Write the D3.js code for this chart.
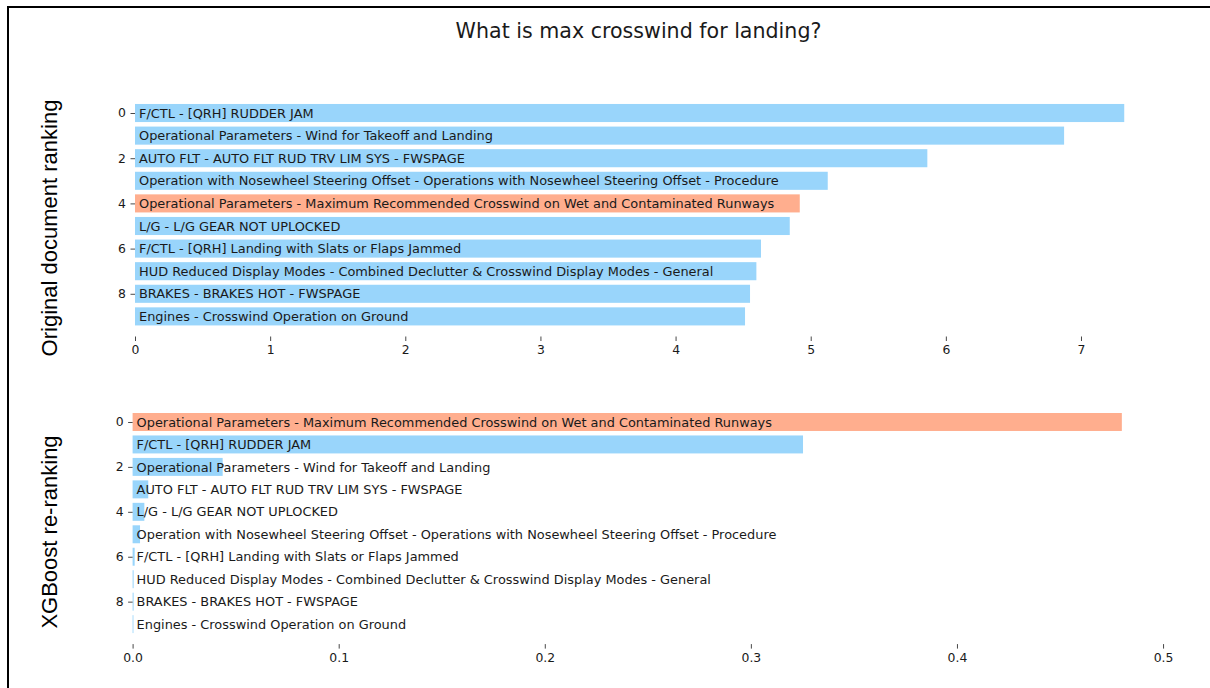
<!DOCTYPE html>
<html>
<head>
<meta charset="utf-8">
<script src="https://cdn.jsdelivr.net/npm/d3@7"></script>
<style>
  html, body { margin: 0; padding: 0; background: #fff; }
  svg { display: block; }
</style>
</head>
<body>
<svg id="chart" width="1210" height="688"></svg>
<script>
// ---- data ----
const chartTitle = "What is max crosswind for landing?";
const highlightLabel = "Operational Parameters - Maximum Recommended Crosswind on Wet and Contaminated Runways";

const originalLabels = [
  "F/CTL - [QRH] RUDDER JAM",
  "Operational Parameters - Wind for Takeoff and Landing",
  "AUTO FLT - AUTO FLT RUD TRV LIM SYS - FWSPAGE",
  "Operation with Nosewheel Steering Offset - Operations with Nosewheel Steering Offset - Procedure",
  "Operational Parameters - Maximum Recommended Crosswind on Wet and Contaminated Runways",
  "L/G - L/G GEAR NOT UPLOCKED",
  "F/CTL - [QRH] Landing with Slats or Flaps Jammed",
  "HUD Reduced Display Modes - Combined Declutter & Crosswind Display Modes - General",
  "BRAKES - BRAKES HOT - FWSPAGE",
  "Engines - Crosswind Operation on Ground"
];
const originalScores = [7.32, 6.875, 5.863, 5.126, 4.919, 4.845, 4.632, 4.598, 4.551, 4.514];
const originalTicks = [0, 1, 2, 3, 4, 5, 6, 7];

const xgbLabels = [
  "Operational Parameters - Maximum Recommended Crosswind on Wet and Contaminated Runways",
  "F/CTL - [QRH] RUDDER JAM",
  "Operational Parameters - Wind for Takeoff and Landing",
  "AUTO FLT - AUTO FLT RUD TRV LIM SYS - FWSPAGE",
  "L/G - L/G GEAR NOT UPLOCKED",
  "Operation with Nosewheel Steering Offset - Operations with Nosewheel Steering Offset - Procedure",
  "F/CTL - [QRH] Landing with Slats or Flaps Jammed",
  "HUD Reduced Display Modes - Combined Declutter & Crosswind Display Modes - General",
  "BRAKES - BRAKES HOT - FWSPAGE",
  "Engines - Crosswind Operation on Ground"
];
const xgbScores = [0.480, 0.3253, 0.0437, 0.0076, 0.0057, 0.0036, 0.0010, 0.0005, 0.0005, 0.0004];
const xgbTicks = [0.0, 0.1, 0.2, 0.3, 0.4, 0.5];

const yTickValues = [0, 2, 4, 6, 8];

// ---- styles ----
const BLUE = "#99d5fb";
const ORANGE = "#ffae8e";
const TEXT = "#1a1a1a";
const FONT = "'DejaVu Sans', sans-serif";
const LABEL_FONT = "'Liberation Sans', Arial, sans-serif";

const svg = d3.select("#chart");

// frame lines (cropped figure border)
svg.append("line").attr("x1", 8).attr("x2", 1210).attr("y1", 7).attr("y2", 7)
  .attr("stroke", "#000").attr("stroke-width", 2);
svg.append("line").attr("x1", 8).attr("x2", 8).attr("y1", 6).attr("y2", 688)
  .attr("stroke", "#000").attr("stroke-width", 2);

// title
svg.append("text")
  .attr("x", 638.5).attr("y", 38)
  .attr("text-anchor", "middle")
  .attr("font-family", FONT).attr("font-size", 20.6)
  .attr("fill", TEXT)
  .text(chartTitle);

function drawPanel(cfg) {
  const n = cfg.labels.length;
  const xMax = d3.max(cfg.values) * 1.05;
  const x = d3.scaleLinear().domain([0, xMax]).range([cfg.left, cfg.right]);
  const y = d3.scaleLinear().domain([-0.89, n - 1 + 0.89]).range([cfg.top, cfg.bottom]);
  const step = y(1) - y(0);
  const bh = step * 0.8;

  const g = svg.append("g");

  g.selectAll("rect.bar")
    .data(cfg.values)
    .join("rect")
    .attr("class", "bar")
    .attr("x", x(0))
    .attr("y", (d, i) => y(i) - bh / 2)
    .attr("width", d => Math.max(0, x(d) - x(0)))
    .attr("height", bh)
    .attr("fill", (d, i) => cfg.labels[i] === highlightLabel ? ORANGE : BLUE);

  g.selectAll("text.barlabel")
    .data(cfg.labels)
    .join("text")
    .attr("class", "barlabel")
    .attr("x", x(0) + 4)
    .attr("y", (d, i) => y(i))
    .attr("dy", "0.36em")
    .attr("font-family", FONT).attr("font-size", 12.9)
    .attr("fill", TEXT)
    .text(d => d);

  // x axis (ticks only, no spine)
  const xAxis = d3.axisBottom(x)
    .tickValues(cfg.ticks)
    .tickFormat(cfg.fmt)
    .tickSize(4.5)
    .tickPadding(4.5);
  const gx = g.append("g").attr("transform", `translate(0,${cfg.bottom})`).call(xAxis);
  gx.attr("font-size", null).attr("font-family", null);
  gx.select(".domain").remove();
  gx.selectAll("line").attr("stroke", "#333").attr("stroke-width", 0.9);
  gx.selectAll("text").style("font-family", FONT).style("font-size", "12.4px").attr("fill", TEXT);

  // y axis (ticks only)
  const yAxis = d3.axisLeft(y)
    .tickValues(yTickValues)
    .tickFormat(d3.format("d"))
    .tickSize(4.5)
    .tickPadding(4.5);
  const gy = g.append("g").attr("transform", `translate(${cfg.left},0)`).call(yAxis);
  gy.attr("font-size", null).attr("font-family", null);
  gy.select(".domain").remove();
  gy.selectAll("line").attr("stroke", "#333").attr("stroke-width", 0.9);
  gy.selectAll("text").style("font-family", FONT).style("font-size", "12.4px").attr("fill", TEXT);

  // y label
  svg.append("text")
    .attr("transform", `translate(57,${cfg.labelY}) rotate(-90)`)
    .attr("text-anchor", "middle")
    .attr("font-family", LABEL_FONT).attr("font-size", 22)
    .attr("fill", "#000")
    .text(cfg.ylabel);
}

drawPanel({
  labels: originalLabels, values: originalScores, ticks: originalTicks,
  fmt: d3.format("d"),
  left: 135, right: 1173.7, top: 92.9, bottom: 336.5,
  ylabel: "Original document ranking", labelY: 228
});

drawPanel({
  labels: xgbLabels, values: xgbScores, ticks: xgbTicks,
  fmt: d3.format(".1f"),
  left: 132.6, right: 1171.3, top: 402, bottom: 644.1,
  ylabel: "XGBoost re-ranking", labelY: 532
});
</script>
</body>
</html>
